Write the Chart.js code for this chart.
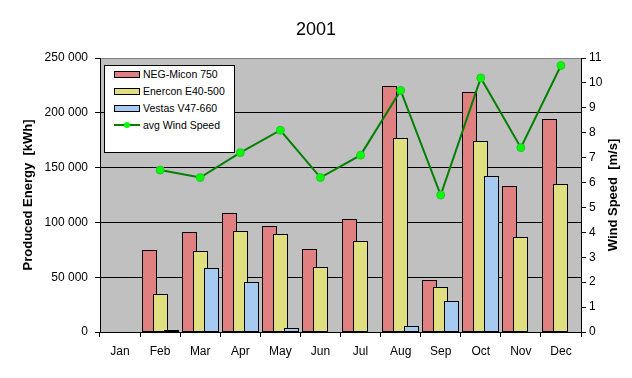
<!DOCTYPE html>
<html>
<head>
<meta charset="utf-8">
<script src="https://cdn.jsdelivr.net/npm/chart.js@4/dist/chart.umd.min.js"></script>
<style>
    body { margin: 0; background: #fff; }
    #wrap { position: relative; width: 632px; height: 378px; }
    #legend {
        position: absolute; left: 104px; top: 65px; width: 131px; height: 88px;
        box-sizing: border-box; border: 1px solid #000; background: #fff;
        font-family: Arial, "Liberation Sans", sans-serif; font-size: 10.5px; color: #000;
    }
    #legend .sw { position: absolute; left: 9px; width: 26px; height: 7px; box-sizing: border-box; border: 1px solid #000; }
    #legend .txt { position: absolute; left: 38px; line-height: 12px; white-space: nowrap; }
    #legend .ln { position: absolute; left: 9px; width: 26px; height: 2px; background: #008000; }
    #legend .dot { position: absolute; left: 19px; width: 6px; height: 6px; border-radius: 50%; background: #00ff00; }
</style>
</head>
<body>
<div id="wrap">
    <canvas id="chart" width="632" height="378"></canvas>
    <div id="legend"></div>
</div>
<script>
var months = ['Jan', 'Feb', 'Mar', 'Apr', 'May', 'Jun', 'Jul', 'Aug', 'Sep', 'Oct', 'Nov', 'Dec'];
var negMicon = [null, 75000, 91000, 109000, 97000, 75500, 103000, 224500, 47000, 219000, 133000, 194000];
var enercon = [null, 35000, 73500, 92000, 89000, 59000, 83000, 177000, 41500, 174500, 86500, 135000];
var vestas = [null, 1500, 58000, 46000, 3500, null, null, 5500, 28000, 142000, null, null];
var windSpeed = [null, 6.5, 6.2, 7.2, 8.1, 6.2, 7.1, 9.7, 5.5, 10.2, 7.4, 10.7];

var seriesNames = ['NEG-Micon 750', 'Enercon E40-500', 'Vestas V47-660', 'avg Wind Speed'];
var barColors = ['#e08080', '#e0e080', '#a6caf0'];

var FONT = 'Arial, "Liberation Sans", sans-serif';

function espacios(v) {
    return String(v).replace(/\B(?=(\d{3})+(?!\d))/g, ' ');
}

// leyenda en html, dentro del area del grafico
var leg = document.getElementById('legend');
seriesNames.forEach(function(name, i) {
    var top = 17 * i;
    if (i < 3) {
        leg.innerHTML += '<div class="sw" style="top:' + (5 + top) + 'px;background:' + barColors[i] + '"></div>';
    } else {
        leg.innerHTML += '<div class="ln" style="top:' + (7 + top) + 'px"></div>' +
            '<div class="dot" style="top:' + (5 + top) + 'px"></div>';
    }
    leg.innerHTML += '<div class="txt" style="top:' + (2 + top) + 'px">' + name + '</div>';
});

var fondoGris = {
    id: 'fondoGris',
    beforeDraw: function(chart) {
        var a = chart.chartArea, ctx = chart.ctx;
        ctx.save();
        ctx.fillStyle = '#c0c0c0';
        ctx.fillRect(a.left, a.top, a.right - a.left, a.bottom - a.top);
        ctx.restore();
    }
};

// redondear las barras a pixeles enteros para bordes nitidos
var barrasNitidas = {
    id: 'barrasNitidas',
    afterDatasetsUpdate: function(chart) {
        chart.data.datasets.forEach(function(ds, i) {
            var meta = chart.getDatasetMeta(i);
            if (meta.type !== 'bar') return;
            meta.data.forEach(function(el) {
                var w = Math.round(el.width);
                var left = Math.round(el.x - el.width / 2);
                el.width = w;
                el.x = left + w / 2;
                el.y = Math.round(el.y);
                el.base = Math.round(el.base);
            });
        });
    }
};

// dibujar las series en orden: rojo, amarillo, azul, linea
var ordenDibujo = {
    id: 'ordenDibujo',
    beforeDatasetsDraw: function(chart) {
        for (var i = 0; i < chart.data.datasets.length; i++) {
            chart.getDatasetMeta(i).controller.draw();
        }
        return false;
    }
};

var tituloDerecho = {
    id: 'tituloDerecho',
    afterDraw: function(chart) {
        var ctx = chart.ctx;
        ctx.save();
        ctx.translate(613, 195);
        ctx.rotate(-Math.PI / 2);
        ctx.font = 'bold 13px ' + FONT;
        ctx.fillStyle = '#000';
        ctx.textAlign = 'center';
        ctx.textBaseline = 'middle';
        ctx.fillText('Wind Speed  [m/s]', 0, 0);
        ctx.restore();
    }
};

var barOpts = {
    borderColor: '#000',
    borderWidth: 1,
    borderSkipped: false,
    categoryPercentage: 0.823,
    barPercentage: 1.37,
    yAxisID: 'y'
};

new Chart(document.getElementById('chart'), {
    type: 'bar',
    data: {
        labels: months,
        datasets: [
            Object.assign({ label: seriesNames[0], data: negMicon, backgroundColor: barColors[0] }, barOpts),
            Object.assign({ label: seriesNames[1], data: enercon, backgroundColor: barColors[1] }, barOpts),
            Object.assign({ label: seriesNames[2], data: vestas, backgroundColor: barColors[2] }, barOpts),
            {
                type: 'line',
                label: seriesNames[3],
                data: windSpeed,
                yAxisID: 'y2',
                borderColor: '#008000',
                borderWidth: 2,
                tension: 0,
                pointRadius: 4,
                pointBorderWidth: 1,
                pointBackgroundColor: '#00ff00',
                pointBorderColor: '#30c030'
            }
        ]
    },
    options: {
        responsive: false,
        animation: false,
        layout: { padding: 0 },
        plugins: {
            legend: { display: false },
            tooltip: { enabled: false },
            title: {
                display: true,
                text: '2001',
                color: '#000',
                font: { family: FONT, size: 18, weight: 'normal' },
                padding: { top: 19, bottom: 17.4 }
            }
        },
        scales: {
            x: {
                offset: true,
                grid: { offset: true, drawOnChartArea: false, tickLength: 5, color: '#000' },
                border: { color: '#000' },
                ticks: { color: '#000', font: { family: FONT, size: 12 }, padding: 7, maxRotation: 0, autoSkip: false },
                afterFit: function(s) { s.height = 46; }
            },
            y: {
                position: 'left',
                min: 0,
                max: 250000,
                grid: {
                    tickLength: 5,
                    tickColor: '#000',
                    color: function(c) { return c.tick && c.tick.value === 250000 ? '#808080' : '#000'; }
                },
                border: { color: '#000' },
                ticks: {
                    stepSize: 50000,
                    color: '#000',
                    padding: 7,
                    font: { family: FONT, size: 12 },
                    callback: function(v) { return espacios(v); }
                },
                title: {
                    display: true,
                    text: 'Produced Energy  [kWh]',
                    color: '#000',
                    font: { family: FONT, size: 13, weight: 'bold' },
                    padding: { top: 21, bottom: 0 }
                },
                afterFit: function(s) { s.width = 100; }
            },
            y2: {
                position: 'right',
                min: 0,
                max: 11,
                grid: { drawOnChartArea: false, tickLength: 5, color: '#000' },
                border: { color: '#000' },
                ticks: { stepSize: 1, color: '#000', padding: 3, font: { family: FONT, size: 12 } },
                afterFit: function(s) { s.width = 51; }
            }
        }
    },
    plugins: [fondoGris, barrasNitidas, ordenDibujo, tituloDerecho]
});
</script>
</body>
</html>
